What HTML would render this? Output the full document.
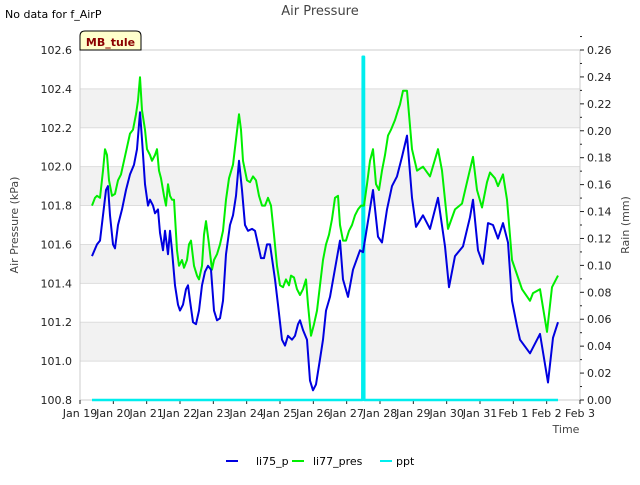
<!DOCTYPE html>
<html><head><meta charset="utf-8"><style>
body{margin:0;background:#fff;}
svg text{font-family:"DejaVu Sans","Liberation Sans",sans-serif;}
</style></head><body>
<svg width="640" height="480" viewBox="0 0 640 480" xmlns="http://www.w3.org/2000/svg">
<rect width="640" height="480" fill="#fff"/>
<g id="bands"></g>
<g id="grid"></g>
<rect x="80" y="50" width="500" height="350" fill="none" stroke="#ccc"/>
<g id="ticks"></g>
<g id="series"></g>
<text x="320" y="15" text-anchor="middle" font-size="13" fill="#444">Air Pressure</text>
<text x="5" y="18" font-size="11" fill="#000">No data for f_AirP</text>
<path d="M80,50 L80,36 Q80,31 85,31 L136,31 Q141,31 141,36 L141,50 Z" fill="#ffffcc" stroke="#000" stroke-width="1"/>
<text x="110.5" y="46" text-anchor="middle" font-size="11" font-weight="bold" fill="#8b0000">MB_tule</text>
<text x="18" y="225" text-anchor="middle" font-size="11" fill="#444" transform="rotate(-90 18 225)">Air Pressure (kPa)</text>
<text x="629" y="225" text-anchor="middle" font-size="11" fill="#444" transform="rotate(-90 629 225)">Rain (mm)</text>
<text x="566" y="433" text-anchor="middle" font-size="11" fill="#444">Time</text>
<g>
<g><line x1="226" y1="461" x2="238" y2="461" stroke="#0000e0" stroke-width="2"/><text x="256" y="465" font-size="11">li75_p</text></g>
<g><line x1="292" y1="461" x2="304" y2="461" stroke="#00ee00" stroke-width="2"/><text x="313" y="465" font-size="11">li77_pres</text></g>
<g><line x1="380" y1="461" x2="392" y2="461" stroke="#00eeee" stroke-width="2"/><text x="396" y="465" font-size="11">ppt</text></g>
</g>
</svg>
<script>
const xTickLabels=["Jan 19","Jan 20","Jan 21","Jan 22","Jan 23","Jan 24","Jan 25","Jan 26","Jan 27","Jan 28","Jan 29","Jan 30","Jan 31","Feb 1","Feb 2","Feb 3"];
const yTicks=[100.8,101.0,101.2,101.4,101.6,101.8,102.0,102.2,102.4,102.6];
const y2Ticks=[0,0.02,0.04,0.06,0.08,0.10,0.12,0.14,0.16,0.18,0.20,0.22,0.24,0.26];
// [day offset from Jan 19, kPa]
const li75Data=[[0.36,101.54],[0.51,101.60],[0.60,101.62],[0.69,101.75],[0.78,101.88],[0.84,101.90],[0.90,101.75],[0.99,101.60],[1.05,101.58],[1.14,101.70],[1.26,101.78],[1.38,101.88],[1.50,101.96],[1.62,102.01],[1.71,102.09],[1.80,102.28],[1.86,102.14],[1.95,101.91],[2.04,101.80],[2.10,101.83],[2.19,101.80],[2.25,101.76],[2.34,101.78],[2.40,101.66],[2.49,101.57],[2.55,101.67],[2.64,101.55],[2.70,101.67],[2.76,101.57],[2.85,101.39],[2.94,101.29],[3.00,101.26],[3.09,101.29],[3.18,101.37],[3.24,101.39],[3.30,101.31],[3.39,101.20],[3.48,101.19],[3.57,101.26],[3.66,101.39],[3.75,101.46],[3.84,101.49],[3.93,101.47],[4.02,101.26],[4.11,101.21],[4.20,101.22],[4.29,101.31],[4.38,101.55],[4.50,101.70],[4.59,101.75],[4.68,101.85],[4.77,102.03],[4.86,101.88],[4.95,101.70],[5.04,101.67],[5.16,101.68],[5.25,101.67],[5.34,101.60],[5.43,101.53],[5.52,101.53],[5.61,101.60],[5.70,101.60],[5.85,101.42],[5.94,101.29],[6.06,101.11],[6.15,101.08],[6.24,101.13],[6.36,101.11],[6.45,101.13],[6.54,101.19],[6.60,101.21],[6.69,101.16],[6.81,101.11],[6.90,100.90],[6.99,100.85],[7.08,100.88],[7.20,101.01],[7.29,101.11],[7.38,101.26],[7.50,101.33],[7.80,101.62],[7.89,101.42],[8.04,101.33],[8.19,101.47],[8.40,101.57],[8.49,101.56],[8.79,101.88],[8.94,101.64],[9.06,101.61],[9.21,101.78],[9.36,101.90],[9.51,101.95],[9.66,102.05],[9.81,102.16],[9.96,101.84],[10.08,101.69],[10.29,101.75],[10.50,101.68],[10.74,101.84],[10.95,101.59],[11.07,101.38],[11.25,101.54],[11.49,101.59],[11.70,101.74],[11.79,101.83],[11.94,101.57],[12.09,101.50],[12.24,101.71],[12.39,101.70],[12.54,101.63],[12.69,101.71],[12.84,101.61],[12.96,101.31],[13.11,101.18],[13.20,101.11],[13.50,101.04],[13.80,101.14],[14.04,100.89],[14.19,101.12],[14.34,101.20]];
const li77Data=[[0.36,101.80],[0.45,101.84],[0.51,101.85],[0.60,101.84],[0.69,101.98],[0.75,102.09],[0.81,102.06],[0.87,101.93],[0.96,101.85],[1.05,101.86],[1.14,101.93],[1.23,101.96],[1.32,102.03],[1.41,102.10],[1.50,102.17],[1.59,102.19],[1.68,102.27],[1.74,102.34],[1.80,102.46],[1.86,102.29],[1.95,102.19],[2.01,102.09],[2.10,102.06],[2.16,102.03],[2.25,102.06],[2.31,102.09],[2.37,101.98],[2.43,101.94],[2.52,101.85],[2.58,101.80],[2.64,101.91],[2.70,101.85],[2.76,101.83],[2.82,101.83],[2.91,101.57],[2.97,101.49],[3.06,101.52],[3.12,101.48],[3.21,101.52],[3.27,101.60],[3.33,101.62],[3.42,101.49],[3.51,101.44],[3.57,101.42],[3.66,101.49],[3.72,101.65],[3.78,101.72],[3.87,101.60],[3.96,101.47],[4.02,101.52],[4.11,101.55],[4.20,101.60],[4.29,101.67],[4.38,101.83],[4.47,101.94],[4.59,102.01],[4.68,102.14],[4.77,102.27],[4.83,102.19],[4.89,102.03],[5.01,101.93],[5.10,101.92],[5.19,101.95],[5.28,101.93],[5.37,101.85],[5.46,101.80],[5.55,101.80],[5.64,101.84],[5.73,101.80],[5.82,101.65],[5.91,101.49],[6.00,101.39],[6.09,101.38],[6.18,101.42],[6.27,101.39],[6.33,101.44],[6.42,101.43],[6.51,101.37],[6.60,101.34],[6.69,101.37],[6.78,101.42],[6.84,101.29],[6.93,101.13],[7.02,101.19],[7.11,101.26],[7.20,101.39],[7.29,101.52],[7.38,101.60],[7.47,101.65],[7.56,101.73],[7.65,101.84],[7.74,101.85],[7.80,101.70],[7.89,101.62],[7.98,101.62],[8.07,101.67],[8.16,101.70],[8.25,101.75],[8.34,101.78],[8.43,101.80],[8.52,101.80],[8.61,101.91],[8.70,102.03],[8.79,102.09],[8.88,101.91],[8.97,101.88],[9.06,101.98],[9.15,102.06],[9.24,102.16],[9.33,102.19],[9.45,102.24],[9.54,102.29],[9.60,102.32],[9.69,102.39],[9.81,102.39],[9.96,102.09],[10.11,101.98],[10.29,102.00],[10.50,101.95],[10.74,102.09],[10.86,101.98],[11.04,101.68],[11.25,101.78],[11.46,101.81],[11.61,101.92],[11.79,102.05],[11.91,101.88],[12.06,101.79],[12.21,101.92],[12.30,101.97],[12.45,101.94],[12.54,101.90],[12.69,101.96],[12.81,101.83],[12.96,101.52],[13.14,101.43],[13.26,101.37],[13.50,101.31],[13.59,101.35],[13.80,101.37],[14.01,101.15],[14.16,101.38],[14.34,101.44]];
const pptTimes=[0.36,8.47,8.48,8.52,8.53,14.34];
const pptValues=[0,0,0.255,0.255,0,0];

const NS="http://www.w3.org/2000/svg";
const X0=80,X1=580,Y0=400,Y1=50;
const xs=d=>X0+d*(X1-X0)/15;
const ys=v=>Y0-(v-100.8)*(Y0-Y1)/1.8;
const y2s=v=>Y0-v*(Y0-Y1)/0.26;
function mk(tag,attrs,parent){const e=document.createElementNS(NS,tag);for(const k in attrs)e.setAttribute(k,attrs[k]);parent.appendChild(e);return e;}
const bands=document.getElementById('bands'),grid=document.getElementById('grid'),ticks=document.getElementById('ticks'),series=document.getElementById('series');
for(let i=0;i<yTicks.length-1;i++){
  if(i%2===1){const r=mk('rect',{x:X0,y:ys(yTicks[i+1]),width:X1-X0,height:ys(yTicks[i])-ys(yTicks[i+1]),fill:'#f2f2f2'},bands);
  
  }
}
yTicks.forEach(v=>{
  const l=mk('line',{x1:X0,x2:X1,y1:ys(v),y2:ys(v),stroke:'#ddd'},grid);
  
  
  const t=mk('text',{x:X0-8,y:ys(v)+4,'text-anchor':'end','font-size':'11',fill:'#222'},ticks);
  t.textContent=v.toFixed(1);
  
  
});
y2Ticks.forEach(v=>{
  mk('line',{x1:X1,x2:X1+4,y1:y2s(v),y2:y2s(v),stroke:'#222'},ticks);
  mk('line',{x1:X1,x2:X1+2,y1:y2s(v+0.01),y2:y2s(v+0.01),stroke:'#222'},ticks);
  const t=mk('text',{x:X1+7,y:y2s(v)+4,'font-size':'11',fill:'#222'},ticks);
  t.textContent=v.toFixed(2);
  
  
});
xTickLabels.forEach((s,i)=>{
  mk('line',{x1:xs(i),x2:xs(i),y1:Y0,y2:Y0+4,stroke:'#222'},ticks);
  const t=mk('text',{x:xs(i),y:Y0+17,'text-anchor':'middle','font-size':'11',fill:'#222'},ticks);
  t.textContent=s;
  
  
});
function line(pts,color,w,name){
  const p=mk('polyline',{points:pts.map(q=>q[0].toFixed(1)+','+q[1].toFixed(1)).join(' '),fill:'none',stroke:color,'stroke-width':w,'stroke-linejoin':'round'},series);
  
  
}
line(pptTimes.map((t,i)=>[xs(t),y2s(pptValues[i])]),'#00eeee',2.5,'ppt-line');
line(li77Data.map(d=>[xs(d[0]),ys(d[1])]),'#00ee00',2,'li77-pres-line');
line(li75Data.map(d=>[xs(d[0]),ys(d[1])]),'#0000e0',2,'li75-p-line');
</script>
</body></html>
